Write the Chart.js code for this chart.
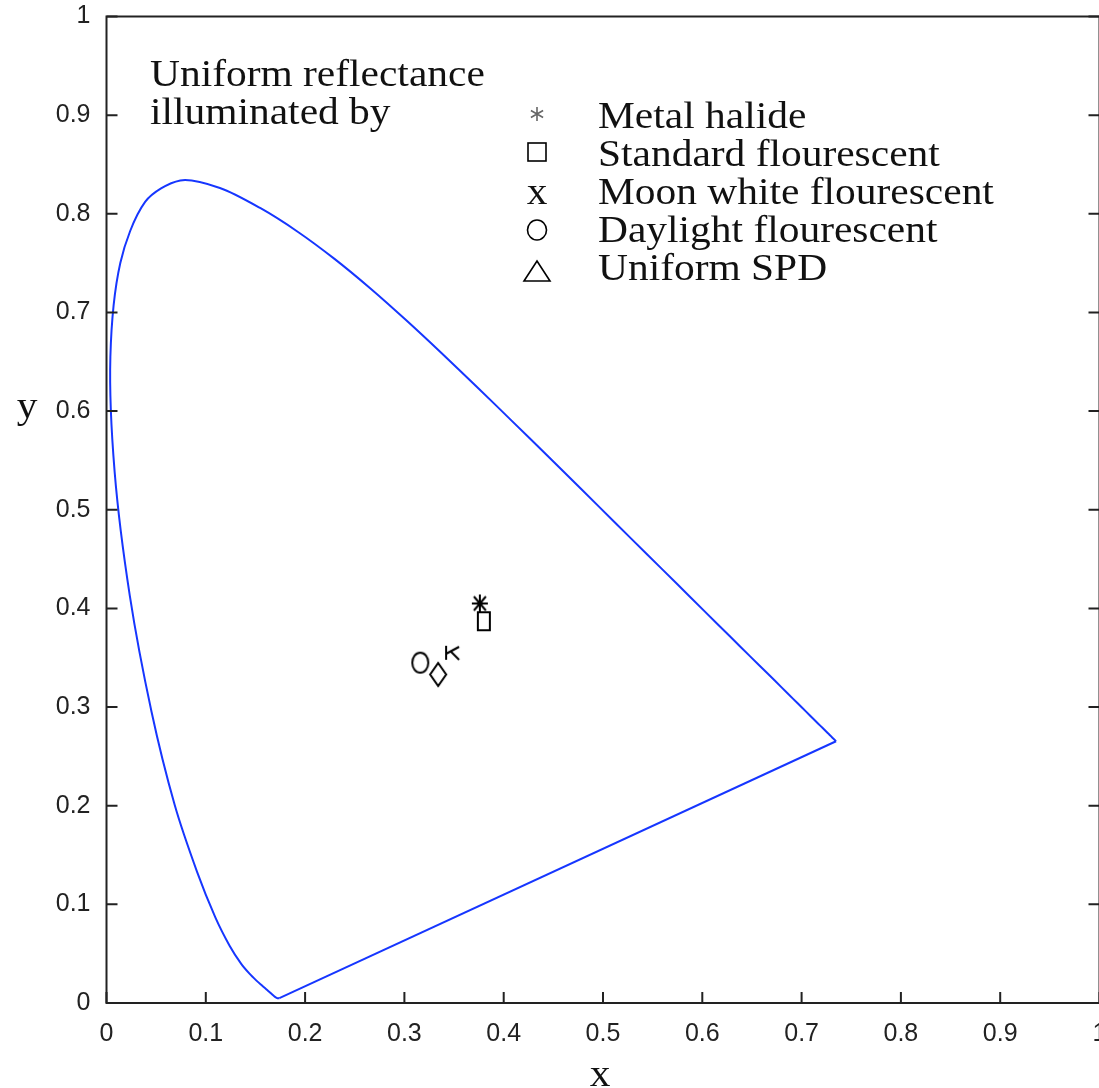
<!DOCTYPE html>
<html>
<head>
<meta charset="utf-8">
<script src="https://cdn.jsdelivr.net/npm/chart.js@4/dist/chart.umd.min.js"></script>
<style>
  html, body { margin: 0; padding: 0; background: #fff; overflow: hidden; }
  #wrap { width: 1110px; height: 1088px; }
</style>
</head>
<body>
<div id="wrap"><canvas id="chart" width="1110" height="1088"></canvas></div>
<script>
// CIE 1931 spectral locus, 380..700 nm in 5 nm steps
const locusX = [0.1741, 0.1740, 0.1738, 0.1736, 0.1733, 0.1730, 0.1726, 0.1721, 0.1714, 0.1703,
  0.1689, 0.1669, 0.1644, 0.1611, 0.1566, 0.1510, 0.1440, 0.1355, 0.1241, 0.1096,
  0.0913, 0.0687, 0.0454, 0.0235, 0.0082, 0.0039, 0.0139, 0.0389, 0.0743, 0.1142,
  0.1547, 0.1929, 0.2296, 0.2658, 0.3016, 0.3373, 0.3731, 0.4087, 0.4441, 0.4788,
  0.5125, 0.5448, 0.5752, 0.6029, 0.6270, 0.6482, 0.6658, 0.6801, 0.6915, 0.7006,
  0.7079, 0.7140, 0.7190, 0.7230, 0.7260, 0.7283, 0.7300, 0.7311, 0.7320, 0.7327,
  0.7334, 0.7340, 0.7344, 0.7346, 0.7347];
const locusY = [0.0050, 0.0050, 0.0049, 0.0049, 0.0048, 0.0048, 0.0048, 0.0048, 0.0051, 0.0058,
  0.0069, 0.0086, 0.0109, 0.0138, 0.0177, 0.0227, 0.0297, 0.0399, 0.0578, 0.0868,
  0.1327, 0.2007, 0.2950, 0.4127, 0.5384, 0.6548, 0.7502, 0.8120, 0.8338, 0.8262,
  0.8059, 0.7816, 0.7543, 0.7243, 0.6923, 0.6589, 0.6245, 0.5896, 0.5547, 0.5202,
  0.4866, 0.4544, 0.4242, 0.3965, 0.3725, 0.3514, 0.3340, 0.3197, 0.3083, 0.2993,
  0.2920, 0.2859, 0.2809, 0.2770, 0.2740, 0.2717, 0.2700, 0.2689, 0.2680, 0.2673,
  0.2666, 0.2660, 0.2656, 0.2654, 0.2653];

// white points of the uniform reflectance under each illuminant
const seriesNames = ['Metal halide', 'Standard flourescent', 'Moon white flourescent', 'Daylight flourescent', 'Uniform SPD'];
const seriesX = [0.376, 0.380, 0.348, 0.316, 0.334];
const seriesY = [0.405, 0.387, 0.355, 0.345, 0.333];

const xTickLabels = ['0', '0.1', '0.2', '0.3', '0.4', '0.5', '0.6', '0.7', '0.8', '0.9', '1'];
const yTickLabels = ['0', '0.1', '0.2', '0.3', '0.4', '0.5', '0.6', '0.7', '0.8', '0.9', '1'];
const noteLines = ['Uniform reflectance', 'illuminated by'];

// small canvases used as point styles (markers are a bit taller than wide, like the figure)
function marker(w, h, draw) {
  const c = document.createElement('canvas');
  c.width = w + 4; c.height = h + 4;
  const g = c.getContext('2d');
  g.strokeStyle = '#000'; g.lineWidth = 2;
  g.translate(2, 2);
  draw(g, w, h);
  return c;
}
const plotMarkers = [
  marker(16, 18, (g, w, h) => {
    g.beginPath();
    g.moveTo(w / 2, 0); g.lineTo(w / 2, h);
    g.moveTo(0, h / 2); g.lineTo(w, h / 2);
    g.moveTo(2, 2); g.lineTo(w - 2, h - 2);
    g.moveTo(w - 2, 2); g.lineTo(2, h - 2);
    g.stroke();
  }),
  marker(12, 18, (g, w, h) => { g.strokeRect(0, 0, w, h); }),
  marker(14, 14, (g, w, h) => {
    g.beginPath();
    g.moveTo(1, 0); g.lineTo(1, h);
    g.moveTo(1, 8); g.lineTo(w, 1);
    g.moveTo(6, 6); g.lineTo(w, h);
    g.stroke();
  }),
  marker(16, 20, (g, w, h) => {
    g.beginPath(); g.ellipse(w / 2, h / 2, w / 2, h / 2, 0, 0, Math.PI * 2); g.stroke();
  }),
  marker(16, 23, (g, w, h) => {
    g.beginPath();
    g.moveTo(w / 2, 0); g.lineTo(w, h / 2); g.lineTo(w / 2, h); g.lineTo(0, h / 2); g.closePath();
    g.stroke();
  })
];

const AXIS = '#222';
const SERIF = '"Liberation Serif", "DejaVu Serif", serif';

function serifText(ctx, text, x, y, size, align) {
  ctx.save();
  ctx.font = size + 'px ' + SERIF;
  ctx.fillStyle = '#111';
  ctx.textBaseline = 'alphabetic';
  const sx = 1.12;
  const w = ctx.measureText(text).width * sx;
  const left = align === 'center' ? x - w / 2 : x;
  ctx.translate(left, y);
  ctx.scale(sx, 1);
  ctx.fillText(text, 0, 0);
  ctx.restore();
}

const framePlugin = {
  id: 'frame',
  afterDraw(chart) {
    const ctx = chart.ctx;
    const a = chart.chartArea;
    const xs = chart.scales.x, ys = chart.scales.y;
    ctx.save();
    ctx.strokeStyle = AXIS;
    ctx.lineWidth = 2;
    ctx.strokeRect(a.left, a.top, a.right - a.left, a.bottom - a.top);
    ctx.beginPath();
    const tl = 11;
    xs.ticks.forEach(t => {
      const px = xs.getPixelForValue(t.value);
      ctx.moveTo(px, a.bottom); ctx.lineTo(px, a.bottom - tl);
    });
    ys.ticks.forEach(t => {
      const py = ys.getPixelForValue(t.value);
      ctx.moveTo(a.left, py); ctx.lineTo(a.left + tl, py);
      ctx.moveTo(a.right, py); ctx.lineTo(a.right - tl, py);
    });
    ctx.stroke();
    ctx.restore();

    // note and legend
    serifText(ctx, noteLines[0], 150, 86, 37, 'left');
    serifText(ctx, noteLines[1], 150, 124, 37, 'left');

    const lx = 537, tx = 598;
    const rows = [114, 152, 190, 228, 266];
    seriesNames.forEach((name, i) => {
      const cy = rows[i];
      serifText(ctx, name, tx, cy + 14, 37, 'left');
      ctx.save();
      ctx.strokeStyle = '#000';
      ctx.lineWidth = 1.6;
      ctx.beginPath();
      if (i === 0) {
        ctx.strokeStyle = '#666';
        const r = 7;
        ctx.moveTo(lx, cy - r); ctx.lineTo(lx, cy + r);
        ctx.moveTo(lx - r * 0.87, cy - r * 0.5); ctx.lineTo(lx + r * 0.87, cy + r * 0.5);
        ctx.moveTo(lx + r * 0.87, cy - r * 0.5); ctx.lineTo(lx - r * 0.87, cy + r * 0.5);
        ctx.stroke();
      } else if (i === 1) {
        ctx.strokeRect(lx - 9, cy - 9, 18, 18);
      } else if (i === 2) {
        ctx.restore();
        serifText(ctx, 'x', lx, cy + 14, 37, 'center');
        return;
      } else if (i === 3) {
        ctx.ellipse(lx, cy + 2, 9.5, 10, 0, 0, Math.PI * 2);
        ctx.stroke();
      } else {
        ctx.moveTo(lx, cy - 5); ctx.lineTo(lx + 13, cy + 15); ctx.lineTo(lx - 13, cy + 15); ctx.closePath();
        ctx.stroke();
      }
      ctx.restore();
    });

    // axis titles (horizontal, as in the figure)
    serifText(ctx, 'x', 600, 1086, 37, 'center');
    serifText(ctx, 'y', 27, 418, 37, 'center');
  }
};

const BLUE = '#1636ff';
const last = locusX.length - 1;
const datasets = [{
  label: 'Spectral locus',
  data: locusX.map((x, i) => ({ x, y: locusY[i] })),
  showLine: true,
  borderColor: BLUE,
  borderWidth: 2,
  pointRadius: 0,
  tension: 0.3
}, {
  label: 'Line of purples',
  data: [{ x: locusX[last], y: locusY[last] }, { x: locusX[0], y: locusY[0] }],
  showLine: true,
  borderColor: BLUE,
  borderWidth: 2,
  pointRadius: 0,
  tension: 0
}].concat(seriesNames.map((name, i) => ({
  label: name,
  data: [{ x: seriesX[i], y: seriesY[i] }],
  pointStyle: plotMarkers[i],
  pointRadius: 8,
  borderColor: '#000',
  backgroundColor: '#000'
})));

const tickFont = { family: '"Liberation Sans", Arial, sans-serif', size: 25 };

new Chart(document.getElementById('chart'), {
  type: 'scatter',
  data: { datasets },
  options: {
    responsive: false,
    animation: false,
    events: [],
    layout: { padding: { left: 0, top: 16.5, right: 10.5, bottom: 0 } },
    plugins: { legend: { display: false }, tooltip: { enabled: false } },
    scales: {
      x: {
        type: 'linear', min: 0, max: 1,
        grid: { display: false },
        border: { display: false },
        ticks: {
          stepSize: 0.1, color: '#222', font: tickFont, padding: 8, maxRotation: 0,
          callback: (v, i) => xTickLabels[i]
        },
        afterFit: s => { s.height = 85; s.paddingLeft = 0; s.paddingRight = 0; }
      },
      y: {
        type: 'linear', min: 0, max: 1,
        grid: { display: false },
        border: { display: false },
        ticks: {
          stepSize: 0.1, color: '#222', font: tickFont, padding: 8,
          callback: (v, i) => yTickLabels[i]
        },
        afterFit: s => { s.width = 106.5; s.paddingTop = 0; s.paddingBottom = 0; }
      }
    }
  },
  plugins: [framePlugin]
});
</script>
</body>
</html>
